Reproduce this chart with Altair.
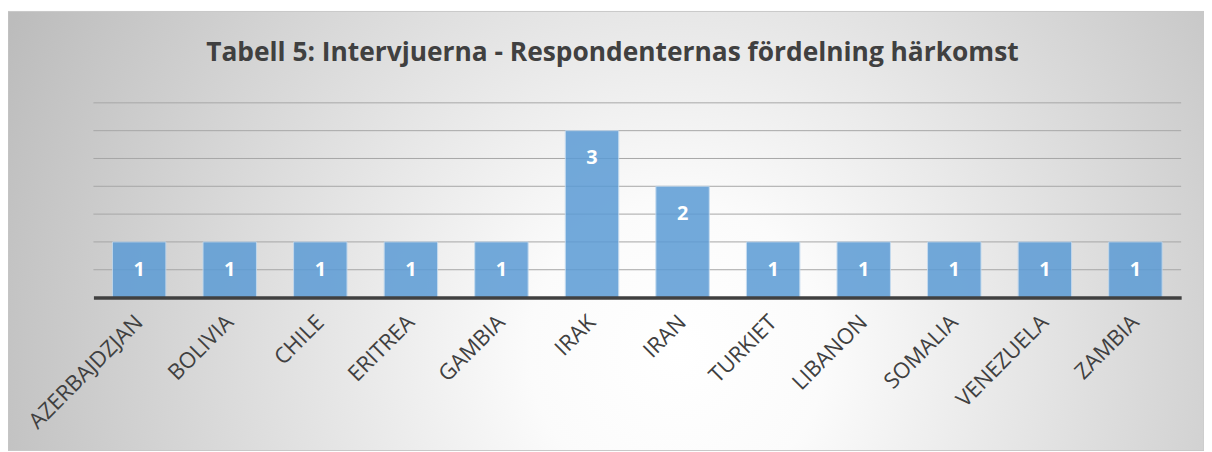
import altair as alt
import pandas as pd

countries = ["AZERBAJDZJAN", "BOLIVIA", "CHILE", "ERITREA", "GAMBIA", "IRAK",
             "IRAN", "TURKIET", "LIBANON", "SOMALIA", "VENEZUELA", "ZAMBIA"]
counts = [1, 1, 1, 1, 1, 3, 2, 1, 1, 1, 1, 1]
grid_values = [0.5, 1, 1.5, 2, 2.5, 3, 3.5]
title_text = "Tabell 5: Intervjuerna - Respondenternas fördelning härkomst"

df = pd.DataFrame({"land": countries, "antal": counts})
grid_df = pd.DataFrame({"g": grid_values})

W, H = 1095, 196
FONT = "Open Sans"

yscale = alt.Scale(domain=[0, 3.5], nice=False)
xscale = alt.Scale(paddingInner=0.41, paddingOuter=0.21)

bg = alt.Chart(alt.Data(values=[{"k": 0}])).mark_rect(
    fill=alt.RadialGradient(
        gradient="radial",
        x1=0.56, y1=0.6, r1=0.0,
        x2=0.56, y2=0.6, r2=0.62,
        stops=[alt.GradientStop(offset=0, color="#ffffff"),
               alt.GradientStop(offset=0.2, color="#fbfbfb"),
               alt.GradientStop(offset=1, color="#bcbcbc")],
    ),
    stroke="#c8c8c8", strokeWidth=1,
).encode(
    x=alt.value(-86), x2=alt.value(1118),
    y=alt.value(-92), y2=alt.value(350),
)

title = alt.Chart(alt.Data(values=[{"t": title_text}])).mark_text(
    font=FONT, fontSize=26.5, fontWeight="bold", color="#404040",
    align="center", baseline="alphabetic",
).encode(text="t:N", x=alt.value(522.5), y=alt.value(-42))

grid = alt.Chart(grid_df).mark_rule(color="#a6a6a6", strokeWidth=1).encode(
    y=alt.Y("g:Q", scale=yscale, axis=None)
)

x_enc = alt.X("land:N", sort=countries, scale=xscale,
              axis=alt.Axis(title=None, labelAngle=-45, labelAlign="right",
                            labelBaseline="middle", labelFontSize=22,
                            labelColor="#404040", labelFont=FONT,
                            ticks=False, domainColor="#404040", domainWidth=3.5,
                            labelPadding=21, zindex=1))

bars = alt.Chart(df).mark_bar(
    color="#5b9bd5", opacity=0.85, stroke="#bdd7ee", strokeWidth=1
).encode(
    x=x_enc,
    y=alt.Y("antal:Q", scale=yscale, axis=None),
)

labels = alt.Chart(df).mark_text(
    color="white", fontWeight="bold", fontSize=20, font=FONT,
    baseline="middle", dy=28,
).encode(
    x=alt.X("land:N", sort=countries),
    y=alt.Y("antal:Q"),
    text="antal:Q",
)

chart = alt.layer(bg, title, grid, bars, labels).properties(
    width=W, height=H,
    padding={"left": 86, "top": 94, "right": 23, "bottom": 154},
    autosize=alt.AutoSizeParams(type="none"),
).configure_view(strokeWidth=0)

chart.save("out.html", embed_options={"renderer": "svg", "actions": False})
